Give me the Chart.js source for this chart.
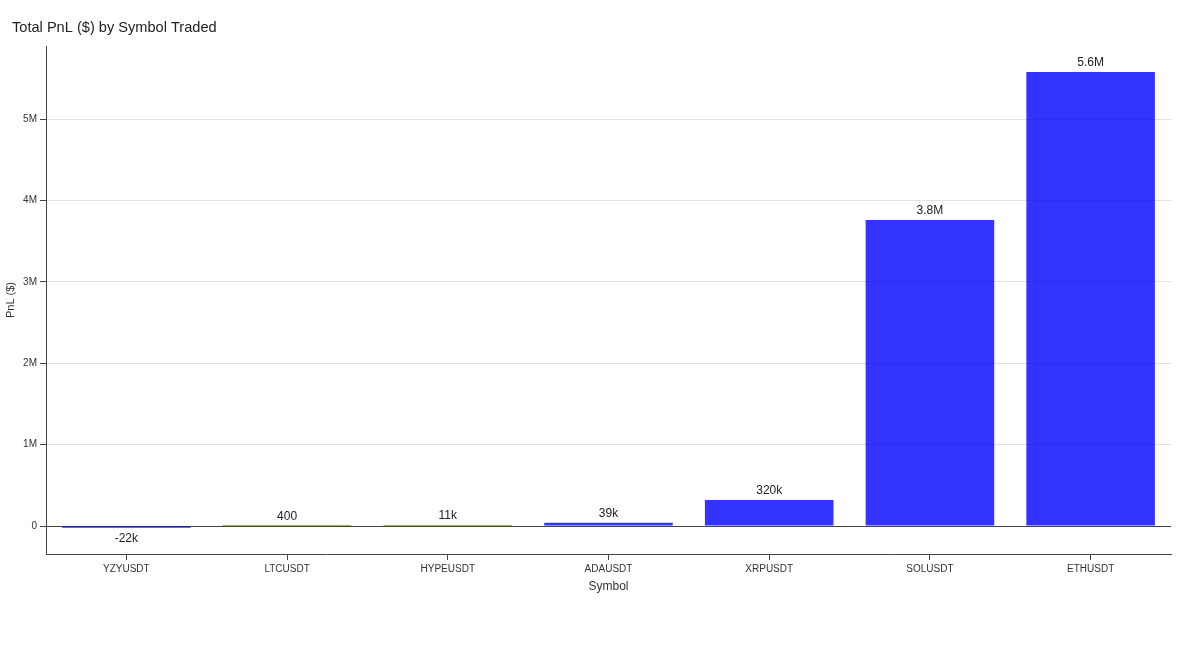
<!DOCTYPE html>
<html>
<head>
<meta charset="utf-8">
<script src="https://cdn.jsdelivr.net/npm/chart.js@4.4.1/dist/chart.umd.min.js"></script>
<style>
  html, body { margin: 0; padding: 0; background: #fff; }
  #wrap { width: 1200px; height: 646px; position: relative; }
</style>
</head>
<body>
<div id="wrap"><canvas id="pnlChart"></canvas></div>
<script>
// Data
const symbols = ["YZYUSDT", "LTCUSDT", "HYPEUSDT", "ADAUSDT", "XRPUSDT", "SOLUSDT", "ETHUSDT"];
const pnlValues = [-22000, 400, 11000, 39000, 320000, 3760000, 5580000];
const yTickValues = [0, 1000000, 2000000, 3000000, 4000000, 5000000];

Chart.defaults.font.family = "'Liberation Sans', Arial, sans-serif";
Chart.defaults.color = "#444";

// 2 significant digits with SI suffix, like "5.6M" or "-22k"
function siFormat(v) {
  const a = Math.abs(v);
  if (a >= 1e6) return Number((v / 1e6).toPrecision(2)) + "M";
  if (a >= 1e3) return Number((v / 1e3).toPrecision(2)) + "k";
  return String(Number(v.toPrecision(2)));
}

// Draws the value text above (or below for negatives) each bar
const barLabels = {
  id: "barLabels",
  afterDatasetsDraw(chart) {
    const ctx = chart.ctx;
    const meta = chart.getDatasetMeta(0);
    ctx.save();
    ctx.font = "12px 'Liberation Sans', Arial, sans-serif";
    ctx.fillStyle = "#222";
    ctx.textAlign = "center";
    ctx.textBaseline = "middle";
    meta.data.forEach((bar, i) => {
      const v = pnlValues[i];
      const y = v >= 0 ? bar.y - 9 : bar.y + 11;
      ctx.fillText(siFormat(v), bar.x, y);
    });
    ctx.restore();
  }
};

// Page title in the top-left corner
const pageTitle = {
  id: "pageTitle",
  afterDraw(chart) {
    const ctx = chart.ctx;
    ctx.save();
    ctx.font = "14.6px 'Liberation Sans', Arial, sans-serif";
    ctx.fillStyle = "#222";
    ctx.textBaseline = "middle";
    ctx.fillText("Total PnL ($) by Symbol Traded", 12, 28);
    ctx.restore();
  }
};

new Chart(document.getElementById("pnlChart"), {
  type: "bar",
  data: {
    labels: symbols,
    datasets: [{
      data: pnlValues,
      backgroundColor: "rgba(0, 0, 255, 0.8)",
      borderWidth: 0,
      barPercentage: 0.8,
      categoryPercentage: 1.0
    }]
  },
  options: {
    responsive: true,
    maintainAspectRatio: false,
    animation: false,
    layout: { padding: { top: 46, right: 29, left: 0, bottom: 52 } },
    plugins: {
      legend: { display: false },
      tooltip: { enabled: false }
    },
    scales: {
      x: {
        border: { display: true, color: "#444", width: 1 },
        grid: { display: true, offset: false, drawOnChartArea: false, tickLength: 6, color: "#444" },
        ticks: { font: { size: 10 }, color: "#333", padding: 3 },
        title: { display: true, text: "Symbol", font: { size: 12 }, color: "#333", padding: { top: 2, bottom: 0 } },
        afterFit(scale) { scale.height = 40; }
      },
      y: {
        min: -344000,
        max: 5900000,
        border: { display: true, color: "#444", width: 1 },
        grid: {
          drawTicks: true,
          tickLength: 6,
          color: (c) => (c.tick && c.tick.value === 0 ? "#444" : "#e2e2e2"),
          tickColor: "#444"
        },
        afterBuildTicks(scale) {
          scale.ticks = yTickValues.map((v) => ({ value: v }));
        },
        ticks: {
          font: { size: 10 },
          color: "#333",
          padding: 3,
          callback: (v) => (v === 0 ? "0" : v / 1e6 + "M")
        },
        title: { display: true, text: "PnL ($)", font: { size: 11 }, color: "#333", padding: { bottom: 6 } },
        afterFit(scale) { scale.width = 46; }
      }
    }
  },
  plugins: [barLabels, pageTitle]
});
</script>
</body>
</html>
